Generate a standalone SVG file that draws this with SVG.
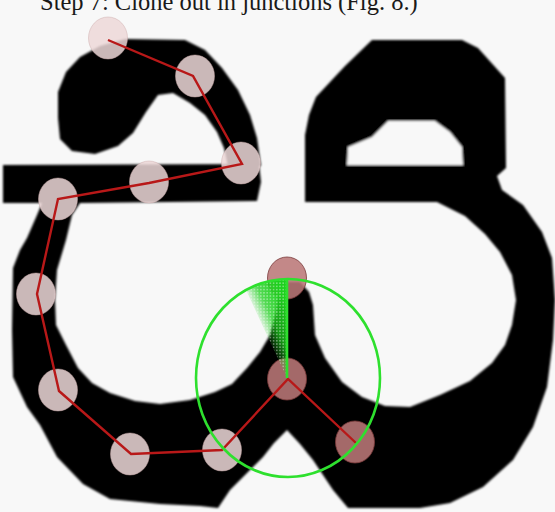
<svg xmlns="http://www.w3.org/2000/svg" width="555" height="512" viewBox="0 0 555 512">
<defs>
<style>
.title{font-family:"Liberation Serif","Times New Roman",serif;font-size:24.5px;fill:#1a1a1a}
.ink{fill:#000}
.paper{fill:#f8f8f8}
.n{fill:rgb(237,216,216);fill-opacity:0.85;stroke:rgb(205,170,170);stroke-opacity:0.6;stroke-width:0.8}
.d{fill:rgb(187,119,119);fill-opacity:0.88;stroke:#7a3a3a;stroke-width:0.8}
.red{fill:none;stroke:#b81818;stroke-width:2.4;stroke-linejoin:miter}
.grn{fill:none;stroke:#2ee02e;stroke-width:2.6}
</style>
<filter id="soft" x="-5%" y="-5%" width="110%" height="110%"><feGaussianBlur stdDeviation="1.3"/></filter>
<linearGradient id="fanG" gradientUnits="userSpaceOnUse" x1="260" y1="324" x2="290" y2="310">
<stop offset="0" stop-color="#1ed01e" stop-opacity="0.05"/>
<stop offset="0.4" stop-color="#1ed01e" stop-opacity="0.75"/>
<stop offset="1" stop-color="#1ed01e" stop-opacity="1"/>
</linearGradient>
<pattern id="dots" width="3.2" height="3.2" patternUnits="userSpaceOnUse">
<circle cx="1.6" cy="1.6" r="0.8" fill="#ffffff" fill-opacity="0.5"/>
</pattern>
</defs>

<rect class="paper" x="0" y="0" width="555" height="512"/>
<text class="title" x="40" y="10">Step 7: Clone out in junctions (Fig. 8.)</text>

<g id="glyph" filter="url(#soft)">
<path class="ink" d="M58,118 L58,92 L66,72 L80,57 L100,46 L125,39 L185,40 L205,50 L222,68 L238,90 L250,115 L257,138 L261,166 L228,166 L224,148 L217,132 L205,115 L190,103 L173,93 L158,95 L146,112 L133,133 L118,146 L95,154 L72,151 L60,139 Z"/>
<path class="ink" d="M3,165 L259,164 L261,182 L257,201 L80,203 L72,215 L66,240 L57,270 L55,300 L56,325 L66,345 L78,368 L92,383 L110,393 L135,401 L160,404 L190,400 L215,392 L232,384 L247,368 L260,352 L270,335 L276,312 L279,290 L285,282 L300,282 L309,292 L313,305 L315,335 L325,358 L342,382 L362,397 L385,406 L410,407 L440,395 L470,381 L492,363 L505,345 L512,325 L516,300 L512,275 L500,252 L485,234 L465,216 L437,202 L305,202 L305,135 L309,115 L316,97 L345,66 L372,40 L462,40 L478,48 L505,78 L506,168 L497,176 L502,190 L523,205 L542,232 L552,258 L555,300 L553,340 L547,387 L533,427 L513,460 L483,487 L450,503 L420,508 L385,508 L348,508 L333,490 L313,460 L300,444 L287,430 L274,443 L263,457 L230,490 L218,508 L200,506 L160,504 L110,499 L83,484 L57,457 L40,425 L27,407 L13,377 L12,330 L13,268 L20,250 L27,238 L37,215 L42,203 L3,203 Z"/>
<path class="paper" d="M347,165 L348,147 L372,137 L388,121 L435,121 L450,132 L462,147 L463,165 Z"/>
</g>

<g id="nodes">
<g id="node1"><ellipse class="n" cx="108" cy="38" rx="19.5" ry="21"/></g>
<g id="node2"><ellipse class="n" cx="195" cy="76" rx="19.5" ry="21"/></g>
<g id="node3"><ellipse class="n" cx="241" cy="163" rx="19.5" ry="21"/></g>
<g id="node4"><ellipse class="n" cx="149" cy="182" rx="19.5" ry="21"/></g>
<g id="node5"><ellipse class="n" cx="58" cy="199" rx="19.5" ry="21"/></g>
<g id="node6"><ellipse class="n" cx="36" cy="294" rx="19.5" ry="21"/></g>
<g id="node7"><ellipse class="n" cx="58" cy="390" rx="19.5" ry="21"/></g>
<g id="node8"><ellipse class="n" cx="130" cy="454" rx="19.5" ry="21"/></g>
<g id="node9"><ellipse class="n" cx="222" cy="450" rx="19.5" ry="21"/></g>
<g id="node10"><ellipse class="d" cx="287" cy="379" rx="19.5" ry="21"/></g>
<g id="node11"><ellipse class="d" cx="287" cy="278" rx="19.5" ry="21"/></g>
<g id="node12"><ellipse class="d" cx="355" cy="442" rx="19.5" ry="21"/></g>
</g>

<g id="connectors">
<polyline class="red" points="108,40 193,76 242,164 149,183 58,199 37,294 59,391 131,454 222,450 288,379 356,443"/>
</g>

<g id="junction-probe">
<path d="M287,378 L287,279 A92,99 0 0 0 246,290 Z" fill="url(#fanG)"/>
<path d="M287,378 L287,279 A92,99 0 0 0 246,290 Z" fill="url(#dots)"/>
<ellipse class="grn" cx="288" cy="378" rx="92" ry="99"/>
<line class="grn" x1="287" y1="279" x2="287" y2="378"/>
</g>
</svg>
